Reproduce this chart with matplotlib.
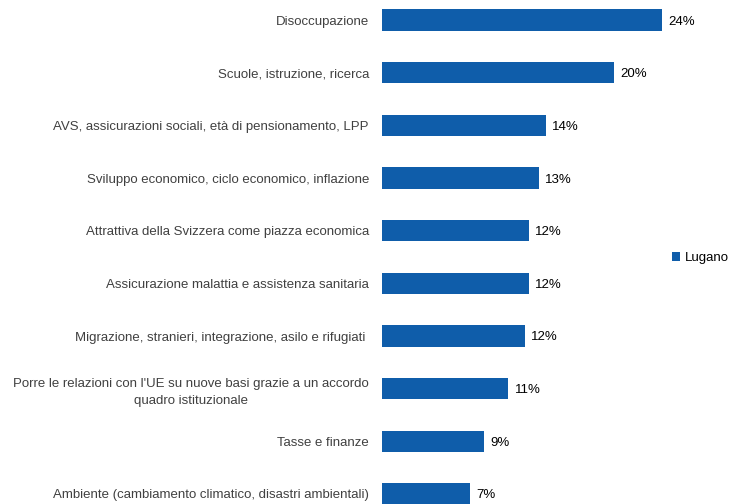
import matplotlib.pyplot as plt

categories = [
    "Disoccupazione",
    "Scuole, istruzione, ricerca",
    "AVS, assicurazioni sociali, età di pensionamento, LPP",
    "Sviluppo economico, ciclo economico, inflazione",
    "Attrattiva della Svizzera come piazza economica",
    "Assicurazione malattia e assistenza sanitaria",
    "Migrazione, stranieri, integrazione, asilo e rifugiati ",
    "Porre le relazioni con l'UE su nuove basi grazie a un accordo\nquadro istituzionale",
    "Tasse e finanze",
    "Ambiente (cambiamento climatico, disastri ambientali)",
]
# bar lengths (unrounded), labels as printed
values = [24.03, 19.94, 14.08, 13.48, 12.62, 12.62, 12.28, 10.87, 8.78, 7.58]
value_labels = ["24%", "20%", "14%", "13%", "12%", "12%", "12%", "11%", "9%", "7%"]
series_name = "Lugano"

bar_color = "#0F5DAA"
label_color = "#404040"
px_per_unit = 11.65

plt.rcParams["font.family"] = ["Liberation Sans", "DejaVu Sans"]

fig = plt.figure(figsize=(7.31, 5.04), dpi=100)
ax = fig.add_axes([381.7 / 731, 0, 1 - 381.7 / 731, 1])

ypos = list(range(len(categories)))
bars = ax.barh(ypos, values, height=0.4, color=bar_color, label=series_name)

ax.set_xlim(0, (731 - 381.7) / px_per_unit)
ax.set_ylim(9.19, -0.38)

for y, v, lab in zip(ypos, values, value_labels):
    ax.text(v + 0.55, y, lab, va="center_baseline", ha="left", fontsize=9.5, color="black")

for y, cat in zip(ypos, categories):
    ax.text(-1.1, y, cat, va="center_baseline", ha="right", multialignment="center",
            linespacing=1.55, fontsize=9.5, color=label_color, clip_on=False)

ax.set_xticks([])
ax.set_yticks([])
for s in ax.spines.values():
    s.set_visible(False)

fig.legend(handles=[bars], labels=[series_name], loc="center left",
           bbox_to_anchor=(672 / 731, 1 - 258 / 504), frameon=False,
           fontsize=9.5, handlelength=0.6, handleheight=0.6, handletextpad=0.4,
           borderaxespad=0, borderpad=0)

fig.savefig("out.png", dpi=100)
